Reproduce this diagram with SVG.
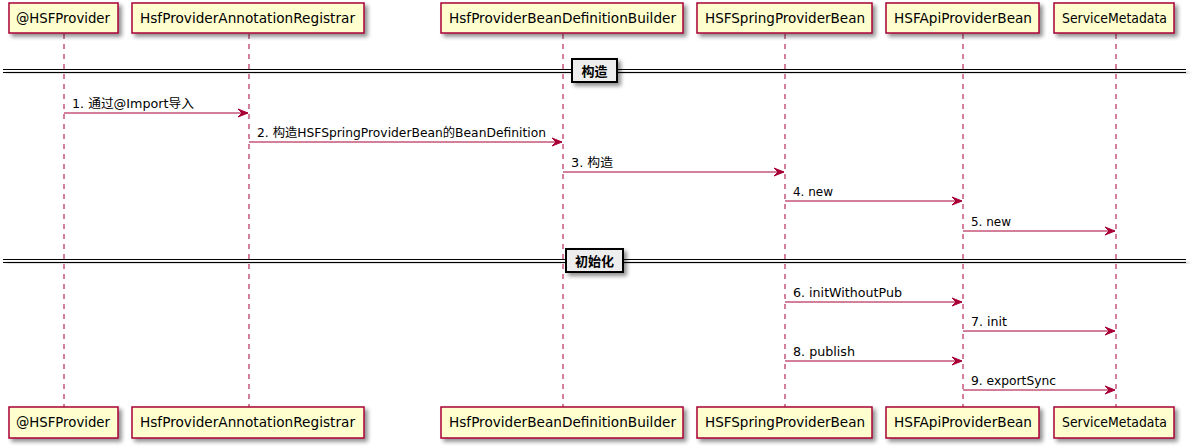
<svg xmlns="http://www.w3.org/2000/svg" width="1197" height="448" viewBox="0 0 1197 448">
<defs>
<filter id="sh" x="-10%" y="-20%" width="130%" height="160%">
<feGaussianBlur in="SourceAlpha" stdDeviation="2" result="b"/>
<feOffset in="b" dx="3" dy="3" result="o"/>
<feComponentTransfer in="o" result="o2"><feFuncA type="linear" slope="0.45"/></feComponentTransfer>
<feMerge><feMergeNode in="o2"/><feMergeNode in="SourceGraphic"/></feMerge>
</filter>
<marker id="ah" markerUnits="userSpaceOnUse" markerWidth="12" markerHeight="10" viewBox="0 0 12 10" refX="11" refY="5" orient="auto">
<polygon points="1,1 11,5 1,9 5,5" fill="#A80036" stroke="#A80036" stroke-width="1"/>
</marker>
</defs>
<style>
.box{fill:#FEFECE;stroke:#A80036;stroke-width:1.5}
.pt{font-family:"DejaVu Sans","Noto Sans CJK SC",sans-serif;font-size:13.5px;fill:#000}
.life{stroke:#A80036;stroke-width:1;stroke-dasharray:5,5}
.msg{stroke:#A80036;stroke-width:1;fill:none}
.ml{font-family:"DejaVu Sans","Noto Sans CJK SC",sans-serif;font-size:12.5px;fill:#000}
.sepl{stroke:#000;stroke-width:1}
.sepb{fill:#EEEEEE;stroke:#000;stroke-width:2}
.sept{font-family:"DejaVu Sans","Noto Sans CJK SC",sans-serif;font-size:13px;font-weight:bold;fill:#000}
</style>

<g id="lifelines">
<line class="life" x1="64" y1="34" x2="64" y2="407"/>
<line class="life" x1="249" y1="34" x2="249" y2="407"/>
<line class="life" x1="563" y1="34" x2="563" y2="407"/>
<line class="life" x1="785" y1="34" x2="785" y2="407"/>
<line class="life" x1="963" y1="34" x2="963" y2="407"/>
<line class="life" x1="1116" y1="34" x2="1116" y2="407"/>
</g>

<g id="p-hsfprovider">
<rect class="box" x="9" y="3" width="109" height="30" filter="url(#sh)"/>
<text class="pt" x="16" y="23" textLength="94" lengthAdjust="spacingAndGlyphs">@HSFProvider</text>
<rect class="box" x="9" y="407" width="109" height="31" filter="url(#sh)"/>
<text class="pt" x="16" y="427" textLength="94" lengthAdjust="spacingAndGlyphs">@HSFProvider</text>
</g>
<g id="p-registrar">
<rect class="box" x="132" y="3" width="232" height="30" filter="url(#sh)"/>
<text class="pt" x="140" y="23" textLength="215" lengthAdjust="spacingAndGlyphs">HsfProviderAnnotationRegistrar</text>
<rect class="box" x="132" y="407" width="232" height="31" filter="url(#sh)"/>
<text class="pt" x="140" y="427" textLength="215" lengthAdjust="spacingAndGlyphs">HsfProviderAnnotationRegistrar</text>
</g>
<g id="p-builder">
<rect class="box" x="441" y="3" width="242" height="30" filter="url(#sh)"/>
<text class="pt" x="449" y="23" textLength="227" lengthAdjust="spacingAndGlyphs">HsfProviderBeanDefinitionBuilder</text>
<rect class="box" x="441" y="407" width="242" height="31" filter="url(#sh)"/>
<text class="pt" x="449" y="427" textLength="227" lengthAdjust="spacingAndGlyphs">HsfProviderBeanDefinitionBuilder</text>
</g>
<g id="p-springbean">
<rect class="box" x="697" y="3" width="175" height="30" filter="url(#sh)"/>
<text class="pt" x="705" y="23" textLength="160" lengthAdjust="spacingAndGlyphs">HSFSpringProviderBean</text>
<rect class="box" x="697" y="407" width="175" height="31" filter="url(#sh)"/>
<text class="pt" x="705" y="427" textLength="160" lengthAdjust="spacingAndGlyphs">HSFSpringProviderBean</text>
</g>
<g id="p-apibean">
<rect class="box" x="886" y="3" width="153" height="30" filter="url(#sh)"/>
<text class="pt" x="894" y="23" textLength="138" lengthAdjust="spacingAndGlyphs">HSFApiProviderBean</text>
<rect class="box" x="886" y="407" width="153" height="31" filter="url(#sh)"/>
<text class="pt" x="894" y="427" textLength="138" lengthAdjust="spacingAndGlyphs">HSFApiProviderBean</text>
</g>
<g id="p-servicemetadata">
<rect class="box" x="1054" y="3" width="120" height="30" filter="url(#sh)"/>
<text class="pt" x="1062" y="23" textLength="105" lengthAdjust="spacingAndGlyphs">ServiceMetadata</text>
<rect class="box" x="1054" y="407" width="120" height="31" filter="url(#sh)"/>
<text class="pt" x="1062" y="427" textLength="105" lengthAdjust="spacingAndGlyphs">ServiceMetadata</text>
</g>

<g id="sep-construct">
<g filter="url(#sh)">
<line class="sepl" x1="3" y1="69.5" x2="1186" y2="69.5"/>
<line class="sepl" x1="3" y1="72.5" x2="1186" y2="72.5"/>
</g>
<rect class="sepb" x="572" y="59" width="45" height="23" filter="url(#sh)"/>
<text class="sept" x="594.5" y="75.5" text-anchor="middle">构造</text>
</g>

<g id="sep-init">
<g filter="url(#sh)">
<line class="sepl" x1="3" y1="259.5" x2="1186" y2="259.5"/>
<line class="sepl" x1="3" y1="262.5" x2="1186" y2="262.5"/>
</g>
<rect class="sepb" x="566" y="249" width="57" height="23" filter="url(#sh)"/>
<text class="sept" x="594.5" y="265.5" text-anchor="middle">初始化</text>
</g>

<g id="connectors">
<line class="msg" x1="64" y1="113" x2="248" y2="113" marker-end="url(#ah)"/>
<text class="ml" x="72" y="108" textLength="122" lengthAdjust="spacingAndGlyphs">1. 通过@Import导入</text>
<line class="msg" x1="249" y1="142" x2="562" y2="142" marker-end="url(#ah)"/>
<text class="ml" x="257" y="137" textLength="289" lengthAdjust="spacingAndGlyphs">2. 构造HSFSpringProviderBean的BeanDefinition</text>
<line class="msg" x1="563" y1="172" x2="784" y2="172" marker-end="url(#ah)"/>
<text class="ml" x="571" y="167" textLength="42" lengthAdjust="spacingAndGlyphs">3. 构造</text>
<line class="msg" x1="785" y1="201" x2="962" y2="201" marker-end="url(#ah)"/>
<text class="ml" x="793" y="196" textLength="40" lengthAdjust="spacingAndGlyphs">4. new</text>
<line class="msg" x1="963" y1="231" x2="1115" y2="231" marker-end="url(#ah)"/>
<text class="ml" x="971" y="226" textLength="40" lengthAdjust="spacingAndGlyphs">5. new</text>
<line class="msg" x1="785" y1="302" x2="962" y2="302" marker-end="url(#ah)"/>
<text class="ml" x="793" y="297" textLength="109" lengthAdjust="spacingAndGlyphs">6. initWithoutPub</text>
<line class="msg" x1="963" y1="331" x2="1115" y2="331" marker-end="url(#ah)"/>
<text class="ml" x="971" y="326" textLength="36" lengthAdjust="spacingAndGlyphs">7. init</text>
<line class="msg" x1="785" y1="361" x2="962" y2="361" marker-end="url(#ah)"/>
<text class="ml" x="793" y="356" textLength="62" lengthAdjust="spacingAndGlyphs">8. publish</text>
<line class="msg" x1="963" y1="390" x2="1115" y2="390" marker-end="url(#ah)"/>
<text class="ml" x="971" y="385" textLength="85" lengthAdjust="spacingAndGlyphs">9. exportSync</text>
</g>
</svg>
